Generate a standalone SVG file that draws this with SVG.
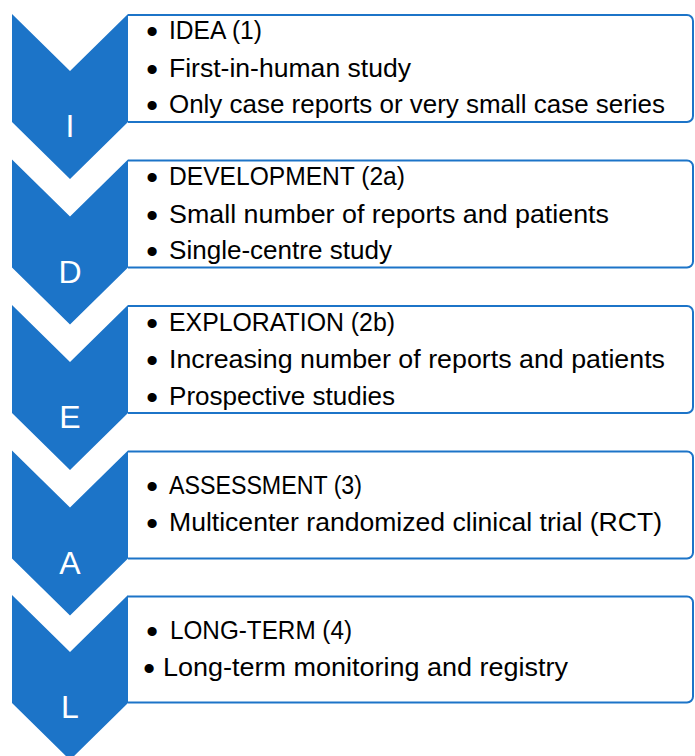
<svg xmlns="http://www.w3.org/2000/svg" width="695" height="756" viewBox="0 0 695 756">
<style>
.box{fill:#fff;stroke:#1c74c8;stroke-width:2}
.chev{fill:#1c74c8}
.letter{font-family:"Liberation Sans",Arial,sans-serif;font-size:32px;fill:#fff;text-anchor:middle}
.t{font-family:"Liberation Sans",Arial,sans-serif;font-size:26px;fill:#000}
.b{font-family:"Liberation Sans",Arial,sans-serif;font-size:32px;font-weight:bold;fill:#000;text-anchor:middle}
</style>
<rect width="695" height="756" fill="#fff"/>
<g id="step-I">
<path class="box" d="M128,15 H687 A6,6 0 0 1 693,21 V116 A6,6 0 0 1 687,122 H128"/>
<path class="chev" d="M12,14 L70,71 L128,14 L128,122 L70,179 L12,122 Z"/>
<text class="letter" x="70" y="137">I</text>
<text class="b" x="152" y="42">•</text><text class="t" x="169" y="39" textLength="93" lengthAdjust="spacingAndGlyphs">IDEA (1)</text>
<text class="b" x="152" y="80">•</text><text class="t" x="169" y="77" textLength="242" lengthAdjust="spacingAndGlyphs">First-in-human study</text>
<text class="b" x="152" y="116">•</text><text class="t" x="169" y="113" textLength="496" lengthAdjust="spacingAndGlyphs">Only case reports or very small case series</text>
</g>
<g id="step-D">
<path class="box" d="M128,160.5 H687 A6,6 0 0 1 693,166.5 V261.5 A6,6 0 0 1 687,267.5 H128"/>
<path class="chev" d="M12,159.5 L70,216.5 L128,159.5 L128,267.5 L70,324.5 L12,267.5 Z"/>
<text class="letter" x="70" y="282.5">D</text>
<text class="b" x="152" y="188">•</text><text class="t" x="169" y="185" textLength="236" lengthAdjust="spacingAndGlyphs">DEVELOPMENT (2a)</text>
<text class="b" x="152" y="226">•</text><text class="t" x="169" y="223" textLength="440" lengthAdjust="spacingAndGlyphs">Small number of reports and patients</text>
<text class="b" x="152" y="262">•</text><text class="t" x="169" y="259" textLength="223" lengthAdjust="spacingAndGlyphs">Single-centre study</text>
</g>
<g id="step-E">
<path class="box" d="M128,306 H687 A6,6 0 0 1 693,312 V407 A6,6 0 0 1 687,413 H128"/>
<path class="chev" d="M12,305 L70,362 L128,305 L128,413 L70,470 L12,413 Z"/>
<text class="letter" x="70" y="428">E</text>
<text class="b" x="152" y="334">•</text><text class="t" x="169" y="331" textLength="226" lengthAdjust="spacingAndGlyphs">EXPLORATION (2b)</text>
<text class="b" x="152" y="371">•</text><text class="t" x="169" y="368" textLength="496" lengthAdjust="spacingAndGlyphs">Increasing number of reports and patients</text>
<text class="b" x="152" y="408">•</text><text class="t" x="169" y="405" textLength="226" lengthAdjust="spacingAndGlyphs">Prospective studies</text>
</g>
<g id="step-A">
<path class="box" d="M128,451.5 H687 A6,6 0 0 1 693,457.5 V552.5 A6,6 0 0 1 687,558.5 H128"/>
<path class="chev" d="M12,450.5 L70,507.5 L128,450.5 L128,558.5 L70,615.5 L12,558.5 Z"/>
<text class="letter" x="70" y="573.5">A</text>
<text class="b" x="152" y="497">•</text><text class="t" x="169" y="494" textLength="193" lengthAdjust="spacingAndGlyphs">ASSESSMENT (3)</text>
<text class="b" x="152" y="534">•</text><text class="t" x="169" y="531" textLength="493" lengthAdjust="spacingAndGlyphs">Multicenter randomized clinical trial (RCT)</text>
</g>
<g id="step-L">
<path class="box" d="M128,596.5 H687 A6,6 0 0 1 693,602.5 V696.5 A6,6 0 0 1 687,702.5 H128"/>
<path class="chev" d="M12,595 L70,652 L128,595 L128,703 L70,760 L12,703 Z"/>
<text class="letter" x="70" y="718">L</text>
<text class="b" x="152" y="642">•</text><text class="t" x="170" y="639" textLength="182" lengthAdjust="spacingAndGlyphs">LONG-TERM (4)</text>
<text class="b" x="149" y="679">•</text><text class="t" x="163" y="676" textLength="405" lengthAdjust="spacingAndGlyphs">Long-term monitoring and registry</text>
</g>
<g id="connectors"></g>
</svg>
